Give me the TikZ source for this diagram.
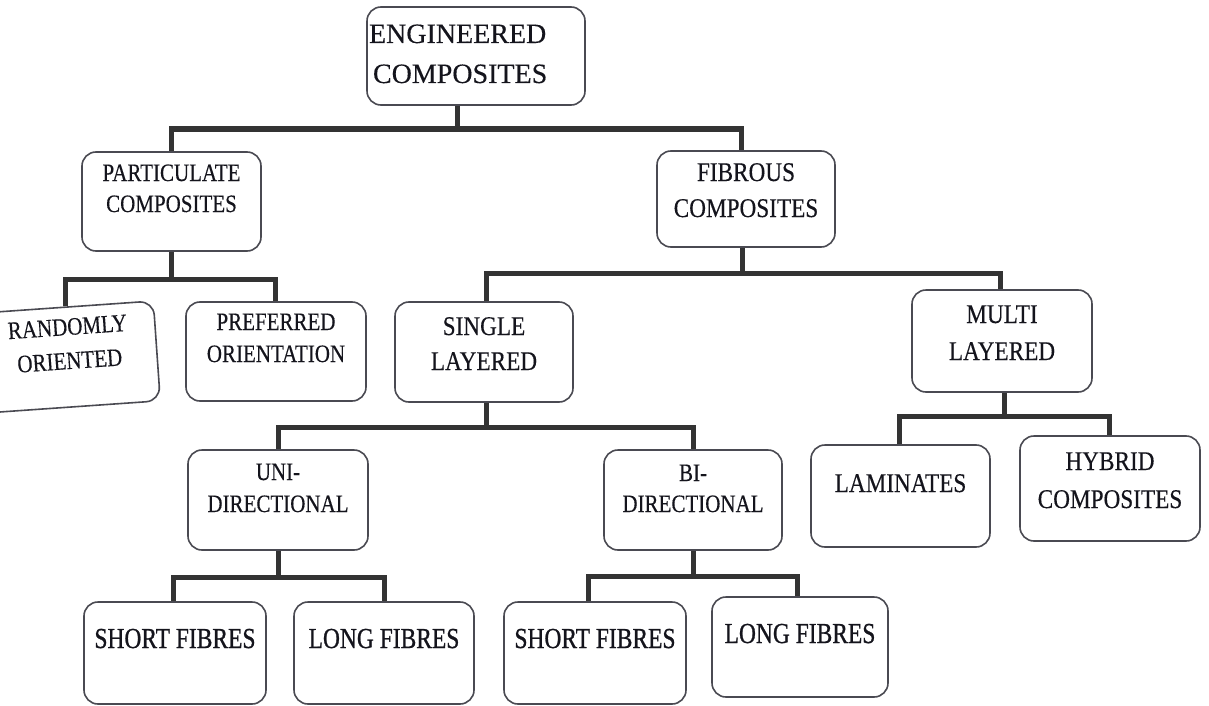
\documentclass[tikz,border=0pt]{standalone}
\usepackage{fontspec}
\setmainfont{Liberation Serif}
\newfontfamily\famE[FakeBold=0.3]{Liberation Serif}
\newfontfamily\famA[FakeStretch=0.84,FakeBold=0.3]{Liberation Serif}
\newfontfamily\famB[FakeStretch=0.86,FakeBold=0.3]{Liberation Serif}
\newfontfamily\famC[FakeStretch=0.81,FakeBold=0.8]{Liberation Serif}
\newcommand\fntE{\famE\fontsize{28pt}{40pt}\selectfont}
\newcommand\fntA{\famA\fontsize{25pt}{31pt}\selectfont}
\newcommand\fntB{\famB\fontsize{27pt}{36pt}\selectfont}
\newcommand\fntC{\famC\fontsize{29pt}{36pt}\selectfont}
% #1 width, #2 height, #3 font, #4 first baseline, #5 skip, #6 text
\newcommand\boxtext[6]{\parbox[c][#2][t]{#1}{\centering#3\baselineskip=#5\rule{0pt}{#4}#6}}
\definecolor{boxline}{HTML}{4A4A52}
\definecolor{connc}{HTML}{333333}
\definecolor{txtc}{HTML}{14141C}
\begin{document}
\begin{tikzpicture}[x=1pt,y=-1pt,
  bx/.style={draw=boxline, line width=1.6pt, rounded corners=14pt, fill=white,
    inner sep=0pt, text=txtc},
  conn/.style={draw=connc, line width=5pt, line join=miter}]
\useasboundingbox (0,0) rectangle (1209,706);
\fill[white] (0,0) rectangle (1209,706);

% nodes
\node[bx, minimum width=218pt, minimum height=98pt] (eng) at (476,56)
  {\parbox[c][98pt][t]{218pt}{\raggedright\fntE\baselineskip=40pt\rule{0pt}{36pt}\hspace*{2pt}ENGINEERED\\\hspace*{6pt}COMPOSITES}};

\node[bx, minimum width=179pt, minimum height=99pt] (part) at (171.5,201.5)
  {\boxtext{179pt}{99pt}{\fntA}{29pt}{31pt}{PARTICULATE\\COMPOSITES}};
\node[bx, minimum width=178pt, minimum height=96pt] (fib) at (746,199)
  {\boxtext{178pt}{96pt}{\fntB}{30pt}{36pt}{FIBROUS\\COMPOSITES}};

\node[bx, minimum width=175pt, minimum height=100pt, rotate=4] (rand) at (69.5,357)
  {\boxtext{175pt}{100pt}{\fntA}{28pt}{34pt}{RANDOMLY\\ORIENTED}};
\node[bx, minimum width=180pt, minimum height=99pt] (pref) at (276,351.5)
  {\boxtext{180pt}{99pt}{\fntA}{28pt}{32pt}{PREFERRED\\ORIENTATION}};
\node[bx, minimum width=178pt, minimum height=100pt] (single) at (484,352)
  {\boxtext{178pt}{100pt}{\fntB}{33pt}{35pt}{SINGLE\\LAYERED}};
\node[bx, minimum width=180pt, minimum height=102pt] (multi) at (1002,341)
  {\boxtext{180pt}{102pt}{\fntB}{33pt}{37pt}{MULTI\\LAYERED}};

\node[bx, minimum width=180pt, minimum height=100pt] (uni) at (278,500)
  {\boxtext{180pt}{100pt}{\fntA}{30pt}{32pt}{UNI-\\DIRECTIONAL}};
\node[bx, minimum width=178pt, minimum height=100pt] (bi) at (693,500)
  {\boxtext{178pt}{100pt}{\fntA}{31pt}{31pt}{BI-\\DIRECTIONAL}};
\node[bx, minimum width=179pt, minimum height=102pt] (lam) at (900.5,496)
  {\boxtext{179pt}{102pt}{\fntB}{47pt}{36pt}{LAMINATES}};
\node[bx, minimum width=180pt, minimum height=105pt] (hyb) at (1110,488.5)
  {\boxtext{180pt}{105pt}{\fntB}{34pt}{38pt}{HYBRID\\COMPOSITES}};

\node[bx, minimum width=182pt, minimum height=102pt] (s1) at (175,653)
  {\boxtext{182pt}{102pt}{\fntC}{46pt}{36pt}{SHORT FIBRES}};
\node[bx, minimum width=180pt, minimum height=102pt] (l1) at (384,653)
  {\boxtext{180pt}{102pt}{\fntC}{46pt}{36pt}{LONG FIBRES}};
\node[bx, minimum width=182pt, minimum height=102pt] (s2) at (595,653)
  {\boxtext{182pt}{102pt}{\fntC}{46pt}{36pt}{SHORT FIBRES}};
\node[bx, minimum width=176pt, minimum height=100pt] (l2) at (800,647)
  {\boxtext{176pt}{100pt}{\fntC}{46pt}{36pt}{LONG FIBRES}};

% connector end points
\coordinate (engd) at ([xshift=-19pt]eng.south);
\coordinate (fibu) at ([xshift=-5pt]fib.north);
\coordinate (fibd) at ([xshift=-4pt]fib.south);
\coordinate (singu) at ([xshift=2pt]single.north);
\coordinate (singd) at ([xshift=2pt]single.south);
\coordinate (multu) at ([xshift=-2pt]multi.north);
\coordinate (multd) at ([xshift=2pt]multi.south);
\coordinate (lamu) at ([xshift=-1.5pt]lam.north);
\coordinate (hybu) at ([xshift=-1pt]hyb.north);
\coordinate (s1u) at ([xshift=-2pt]s1.north);
\coordinate (s2u) at ([xshift=-7pt]s2.north);
\coordinate (l2u) at ([xshift=-3pt]l2.north);
\coordinate (prefu) at ([xshift=-1pt]pref.north);

\coordinate (b1) at (0,129);
\coordinate (b2) at (0,279);
\coordinate (b3) at (0,273);
\coordinate (b4) at (0,427);
\coordinate (b5) at (0,416);
\coordinate (b6) at (0,577);
\coordinate (b7) at (0,576);

% connectors
\draw[conn] (engd) -- (engd |- b1);
\draw[conn] (part.north) -- (part.north |- b1) -| (fibu);

\draw[conn] (part.south) -- (part.south |- b2);
\draw[conn] (rand.north) -- (rand.north |- b2) -| (prefu);

\draw[conn] (fibd) -- (fibd |- b3);
\draw[conn] (singu) -- (singu |- b3) -| (multu);

\draw[conn] (singd) -- (singd |- b4);
\draw[conn] (uni.north) -- (uni.north |- b4) -| (bi.north);

\draw[conn] (multd) -- (multd |- b5);
\draw[conn] (lamu) -- (lamu |- b5) -| (hybu);

\draw[conn] (uni.south) -- (uni.south |- b6);
\draw[conn] (s1u) -- (s1u |- b6) -| (l1.north);

\draw[conn] (bi.south) -- (bi.south |- b7);
\draw[conn] (s2u) -- (s2u |- b7) -| (l2u);
\end{tikzpicture}
\end{document}
